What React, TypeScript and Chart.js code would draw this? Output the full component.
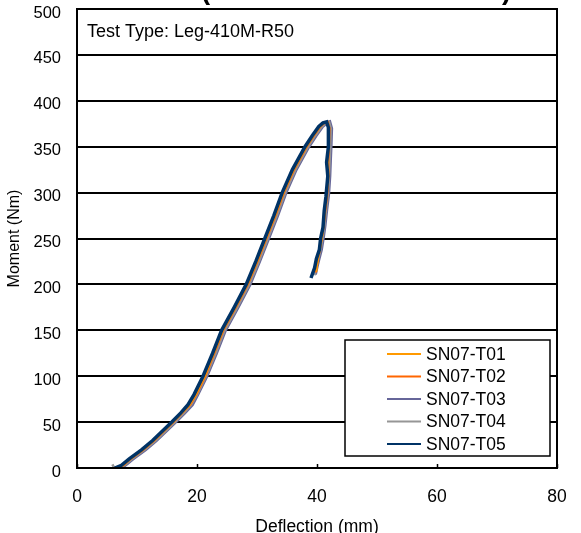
import React, { useEffect, useRef } from 'react';
import { Chart, registerables } from 'chart.js';

Chart.register(...registerables);

const FONT = '"Liberation Sans", Arial, sans-serif';

const chartTitle = 'Moment vs. Deflection (SN07-T01 to SN07-T05)';
const annotationText = 'Test Type: Leg-410M-R50';
const xAxisTitle = 'Deflection (mm)';
const yAxisTitle = 'Moment (Nm)';
const xTickValues = [0, 20, 40, 60, 80];
const yTickValues = [0, 50, 100, 150, 200, 250, 300, 350, 400, 450, 500];

const seriesLabels = ['SN07-T01', 'SN07-T02', 'SN07-T03', 'SN07-T04', 'SN07-T05'];
const seriesColors = ['#FF9900', '#FF6600', '#666699', '#969696', '#003366'];
const seriesWidths = [2, 2, 3.5, 2.5, 3.5];
const seriesOrder = [1, 2, 4, 3, 0];

// SN07-T01
const t01X = [6.5, 7.7, 8.9, 11.0, 12.8, 14.4, 16.0, 17.5, 18.8, 19.8, 21.3, 22.8, 24.3, 26.4, 28.4, 30.0, 31.5, 33.0, 34.4, 36.1, 38.2, 39.4, 40.5, 41.2, 41.7, 42.0, 41.9, 41.8, 41.9, 41.6, 41.3, 41.1, 40.8, 40.5, 40.2, 40.0, 39.9];
const t01Y = [0, 3, 10, 20, 30, 40, 50, 60, 69, 80, 100, 125, 150, 175, 200, 225, 250, 275, 300, 325, 350, 362, 372, 376, 377, 371, 350, 334, 318, 297, 281, 263, 250, 239, 229, 221, 214];

// SN07-T02
const t02X = [6.6, 7.8, 9.0, 11.1, 12.9, 14.5, 16.1, 17.6, 18.9, 19.9, 21.4, 22.9, 24.4, 26.5, 28.5, 30.1, 31.6, 33.1, 34.5, 36.2, 38.3, 39.5, 40.6, 41.3, 41.8, 42.1, 42.0, 41.9, 41.9, 41.7, 41.4, 41.1, 40.8, 40.5, 40.2, 40.0, 39.8];
const t02Y = [0, 3, 10, 20, 30, 40, 50, 60, 69, 80, 100, 125, 150, 175, 200, 225, 250, 275, 300, 325, 350, 362, 372, 376, 377, 370, 350, 334, 318, 296, 281, 263, 250, 239, 229, 220, 213];

// SN07-T03
const t03X = [6.8, 8.0, 9.3, 11.4, 13.2, 14.8, 16.4, 17.9, 19.2, 20.1, 21.6, 23.2, 24.7, 26.8, 28.8, 30.4, 31.9, 33.4, 34.8, 36.5, 38.6, 39.8, 40.9, 41.6, 42.1, 42.4, 42.3, 42.2, 42.1, 41.9, 41.6, 41.3, 41.0, 40.7, 40.3, 40.0, 39.7];
const t03Y = [0, 3, 10, 20, 30, 40, 50, 60, 69, 80, 100, 125, 150, 175, 200, 225, 250, 275, 300, 325, 350, 362, 372, 376, 377, 370, 350, 335, 318, 298, 282, 264, 250, 238, 228, 220, 211];

// SN07-T04
const t04X = [5.9, 6.2, 7.9, 9.2, 11.3, 13.1, 14.7, 16.3, 17.8, 19.0, 20.0, 21.5, 23.1, 24.6, 26.7, 28.7, 30.3, 31.8, 33.3, 34.7, 36.4, 38.5, 39.7, 40.8, 41.5, 42.0, 42.3, 42.2, 42.1, 42.0, 41.8, 41.5, 41.2, 40.9, 40.6, 40.2, 39.9, 39.6];
const t04Y = [4, 0, 3, 10, 20, 30, 40, 50, 60, 69, 80, 100, 125, 150, 175, 200, 225, 250, 275, 300, 325, 350, 362, 372, 376, 377, 370, 350, 334, 318, 297, 281, 263, 250, 238, 228, 219, 210];

// SN07-T05
const t05X = [6.3, 7.4, 8.7, 10.8, 12.6, 14.2, 15.8, 17.3, 18.5, 19.5, 21.0, 22.6, 24.1, 26.2, 28.2, 29.8, 31.3, 32.8, 34.2, 35.9, 38.0, 39.2, 40.3, 41.0, 41.6, 41.9, 41.9, 41.6, 41.8, 41.5, 41.2, 41.0, 40.6, 40.4, 39.9, 39.6, 39.0];
const t05Y = [0, 3, 10, 20, 30, 40, 50, 60, 69, 80, 100, 125, 150, 175, 200, 225, 250, 275, 300, 325, 350, 362, 372, 376, 377, 371, 350, 333, 318, 296, 280, 262, 250, 238, 228, 218, 207];

const seriesX = [t01X, t02X, t03X, t04X, t05X];
const seriesY = [t01Y, t02Y, t03Y, t04Y, t05Y];

const decorPlugin = {
  id: 'decor',
  beforeDraw(chart: any) {
    const { ctx, width, height } = chart;
    ctx.save();
    ctx.fillStyle = '#ffffff';
    ctx.fillRect(0, 0, width, height);
    ctx.restore();
  },
  afterDraw(chart: any) {
    const { ctx, chartArea } = chart;
    const { left, right, top, bottom } = chartArea;
    const xScale = chart.scales.x;
    ctx.save();

    // partially visible chart title above the page
    ctx.font = `bold 27.5px ${FONT}`;
    ctx.fillStyle = '#000';
    ctx.textBaseline = 'alphabetic';
    ctx.textAlign = 'left';
    const prefix = chartTitle.slice(0, chartTitle.indexOf('('));
    const parenX = left + 124;
    ctx.fillText(chartTitle, parenX - ctx.measureText(prefix).width, -1.5);

    // inward tick marks on x axis
    ctx.strokeStyle = '#000';
    ctx.lineWidth = 1.5;
    xTickValues.forEach((v) => {
      const px = Math.round(xScale.getPixelForValue(v)) + 0.5;
      ctx.beginPath();
      ctx.moveTo(px, bottom);
      ctx.lineTo(px, bottom - 4);
      ctx.stroke();
    });

    // plot frame
    ctx.lineWidth = 2;
    ctx.strokeRect(left, top, right - left, bottom - top);

    // annotation text
    ctx.font = `18px ${FONT}`;
    ctx.fillStyle = '#000';
    ctx.textBaseline = 'middle';
    ctx.fillText(annotationText, left + 10, top + 23);

    // legend box
    const boxW = 205;
    const boxH = 116;
    const bx = right - 7 - boxW;
    const by = bottom - 12 - boxH;
    ctx.fillStyle = '#ffffff';
    ctx.fillRect(bx, by, boxW, boxH);
    ctx.strokeStyle = '#000';
    ctx.lineWidth = 1.5;
    ctx.strokeRect(bx, by, boxW, boxH);
    ctx.font = `17.5px ${FONT}`;
    ctx.textBaseline = 'middle';
    chart.data.datasets.forEach((ds: any, i: number) => {
      const cy = by + 14 + i * 22.5;
      ctx.strokeStyle = ds.borderColor;
      ctx.lineWidth = 2;
      ctx.beginPath();
      ctx.moveTo(bx + 42, cy);
      ctx.lineTo(bx + 76, cy);
      ctx.stroke();
      ctx.fillStyle = '#000';
      ctx.fillText(ds.label, bx + 81, cy + 1);
    });
    ctx.restore();
  },
};

export default function App() {
  const ref = useRef<HTMLCanvasElement | null>(null);

  useEffect(() => {
    if (!ref.current) return;
    const datasets = seriesLabels.map((label, i) => ({
      label,
      data: seriesX[i].map((x, j) => ({ x, y: seriesY[i][j] })),
      borderColor: seriesColors[i],
      backgroundColor: seriesColors[i],
      borderWidth: seriesWidths[i],
      pointRadius: 0,
      showLine: true,
      fill: false,
      tension: 0,
      order: seriesOrder[i],
    }));

    const chart = new Chart(ref.current, {
      type: 'scatter',
      data: { datasets },
      plugins: [decorPlugin],
      options: {
        responsive: false,
        animation: false,
        events: [],
        layout: { padding: { left: 0, right: 24, top: 9, bottom: 0 } },
        plugins: {
          legend: { display: false },
          tooltip: { enabled: false },
          title: { display: false },
        },
        scales: {
          x: {
            type: 'linear',
            min: 0,
            max: 80,
            afterBuildTicks: (scale: any) => {
              scale.ticks = xTickValues.map((v) => ({ value: v }));
            },
            afterFit: (scale: any) => {
              scale.height = 65;
              scale.paddingLeft = 0;
              scale.paddingRight = 0;
            },
            grid: { display: false, drawTicks: false },
            border: { display: false },
            ticks: {
              color: '#000',
              padding: 19,
              maxRotation: 0,
              autoSkip: false,
              font: { family: FONT, size: 17.5 },
            },
            title: {
              display: true,
              text: xAxisTitle,
              color: '#000',
              padding: { top: 0, bottom: 0 },
              font: { family: FONT, size: 17.5, lineHeight: 0.7 },
            },
          },
          y: {
            type: 'linear',
            min: 0,
            max: 500,
            afterBuildTicks: (scale: any) => {
              scale.ticks = yTickValues.map((v) => ({ value: v }));
            },
            afterFit: (scale: any) => {
              scale.width = 77;
              scale.paddingTop = 0;
              scale.paddingBottom = 0;
            },
            grid: { color: '#000', lineWidth: 2, drawTicks: false },
            border: { display: false },
            ticks: {
              color: '#000',
              padding: 16,
              labelOffset: 4,
              autoSkip: false,
              font: { family: FONT, size: 16.5 },
            },
            title: {
              display: true,
              text: yAxisTitle,
              color: '#000',
              padding: { top: 5, bottom: 0 },
              font: { family: FONT, size: 16 },
            },
          },
        },
      },
    });
    return () => chart.destroy();
  }, []);

  return (
    <div style={{ position: 'absolute', left: 0, top: 0, width: 581, height: 533, background: '#fff' }}>
      <canvas ref={ref} width={581} height={533} style={{ display: 'block', width: 581, height: 533 }} />
    </div>
  );
}
